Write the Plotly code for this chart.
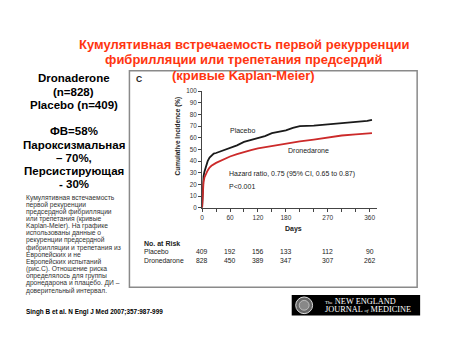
import plotly.graph_objects as go

W, H = 450, 347

# ---------------- data ----------------
placebo_days = [0, 1, 2, 3, 5, 8, 12, 16, 20, 25, 30, 40, 50, 60, 75, 90, 105, 120, 135, 150,
                165, 180, 195, 210, 240, 270, 300, 330, 355, 365]
placebo_pct = [0, 12, 22, 27, 31, 35, 40, 43, 45, 46.5, 47, 48.5, 49.5, 51, 53.5, 56.5, 58, 59.5,
               61.5, 64, 65, 66.5, 68.5, 70, 70.5, 71.5, 73, 74, 74.5, 75.5]
drone_days = [0, 1, 2, 3, 5, 8, 12, 16, 20, 30, 40, 50, 60, 75, 90, 105, 120, 135, 150, 165,
              180, 210, 240, 270, 300, 330, 365]
drone_pct = [0, 10, 18, 22, 26, 29, 32, 34.5, 36, 38.5, 40.5, 42.5, 44, 46, 48, 49.5, 51, 52,
             53.5, 54.5, 55.5, 57, 58.5, 60.5, 62, 63, 64]

x_tick_vals = [0, 30, 60, 90, 120, 150, 180, 210, 240, 270, 300, 330, 360]
x_tick_text = ["0", "", "60", "", "120", "", "180", "", "", "270", "", "", "360"]
y_tick_vals = [0, 10, 20, 30, 40, 50, 60, 70, 80, 90, 100]

risk_days = [0, 60, 120, 180, 270, 360]
risk_placebo = [409, 192, 156, 133, 112, 90]
risk_drone = [828, 450, 389, 347, 307, 262]

title_lines = ["Кумулятивная встречаемость первой рекурренции",
               "фибрилляции или трепетания предсердий",
               "(кривые Kaplan-Meier)"]
left_lines = ["Dronaderone", "(n=828)", "Placebo (n=409)", "",
              "ФВ=58%", "Пароксизмальная", "– 70%,", "Персистирующая", "- 30%"]
note_lines = ["Кумулятивная встечаемость", "первой рекуренции",
              "предсердной фибрилляции", "или трепетания (кривые",
              "Kaplan-Meier). На графике", "использованы данные о",
              "рекуренции предсердной", "фибрилляции и трепетания из",
              "Европейских и не", "Европейских испытаний",
              "(рис.С). Отношение риска", "определялось для группы",
              "дронедарона и плацебо. ДИ –", "доверительный интервал."]
citation = "Singh B et al. N Engl J Med 2007;357:987-999"


def px(x):
    return x / W


def py(y):
    return 1 - y / H


fig = go.Figure()
fig.add_trace(go.Scatter(x=placebo_days, y=placebo_pct, mode="lines",
                         line=dict(color="#1a1a1a", width=1.8), hoverinfo="skip"))
fig.add_trace(go.Scatter(x=drone_days, y=drone_pct, mode="lines",
                         line=dict(color="#cc2a2a", width=1.8), hoverinfo="skip"))

SANS = "Liberation Sans, Arial, sans-serif"
ann = []


def add(text, x, y, size, color="#000", bold=False, xanchor="center", yanchor="middle",
        family=SANS, xref="paper", angle=0):
    t = "<b>%s</b>" % text if bold else text
    ann.append(dict(text=t, x=x if xref != "paper" else px(x), y=py(y), xref=xref, yref="paper",
                    showarrow=False, xanchor=xanchor, yanchor=yanchor, textangle=angle,
                    font=dict(size=size, color=color, family=family)))


# title
for i, line in enumerate(title_lines):
    add(line, 243, 41 + 16 * i, 13, color="#ff3510", bold=True)

# left bold block
left_y = [76, 89.5, 103, 116.5, 130, 143.5, 157, 170.5, 184]
for line, yy in zip(left_lines, left_y):
    if line:
        add(line, 72, yy, 11.5, bold=True)

# small note
for i, line in enumerate(note_lines):
    add(line, 22, 197.5 + 7.3 * i, 6.7, color="#333", xanchor="left")
add(citation, 22, 314, 6.4, bold=True, xanchor="left")

# chart texts
add("C", 133, 77, 8.5, color="#222", bold=True, xanchor="left")
add("Cumulative Incidence (%)", 177, 135, 6.5, color="#222", bold=True, angle=-90)
add("Placebo", 242, 129, 7, color="#222")
add("Dronedarone", 308, 149.5, 7, color="#222")
add("Hazard ratio, 0.75 (95% CI, 0.65 to 0.87)", 226.5, 174, 7, color="#222", xanchor="left")
add("P<0.001", 226.5, 186.5, 7, color="#222", xanchor="left")
add("Days", 293, 230, 7, color="#222", bold=True)
add("No. at Risk", 141, 244, 7, color="#222", bold=True, xanchor="left")
add("Placebo", 141, 253, 6.8, color="#222", xanchor="left")
add("Dronedarone", 141, 262, 6.8, color="#222", xanchor="left")
for d, a, b in zip(risk_days, risk_placebo, risk_drone):
    ann.append(dict(text=str(a), x=d, y=py(253), xref="x", yref="paper", showarrow=False,
                    xanchor="center", yanchor="middle",
                    font=dict(size=6.8, color="#222", family=SANS)))
    ann.append(dict(text=str(b), x=d, y=py(262), xref="x", yref="paper", showarrow=False,
                    xanchor="center", yanchor="middle",
                    font=dict(size=6.8, color="#222", family=SANS)))

# NEJM logo text
SERIF = "Liberation Serif, DejaVu Serif, serif"
add("<span style='font-size:5px'>The</span> NEW ENGLAND", 322, 303.5, 8.3, color="#fff",
    xanchor="left", family=SERIF)
add("JOURNAL <span style='font-size:5px'><i>of</i></span> MEDICINE", 322, 312, 8.3,
    color="#fff", xanchor="left", family=SERIF)

shapes = [
    dict(type="rect", xref="paper", yref="paper", x0=px(128), x1=px(417), y0=py(289), y1=py(68),
         line=dict(color="#8a8a8a", width=1.5), fillcolor="rgba(0,0,0,0)", layer="below"),
    dict(type="rect", xref="paper", yref="paper", x0=px(291), x1=px(420), y0=py(318), y1=py(297),
         line=dict(color="#000", width=0), fillcolor="#000"),
    dict(type="circle", xref="paper", yref="paper", x0=px(295), x1=px(312), y0=py(316), y1=py(299),
         line=dict(color="#ddd", width=1), fillcolor="#666"),
    dict(type="circle", xref="paper", yref="paper", x0=px(298.5), x1=px(308.5), y0=py(312.5),
         y1=py(302.5), line=dict(color="#ccc", width=0.8), fillcolor="#888"),
]

fig.update_layout(
    width=W, height=H, margin=dict(l=0, r=0, t=0, b=0),
    paper_bgcolor="white", plot_bgcolor="white", showlegend=False,
    annotations=ann, shapes=shapes,
    xaxis=dict(domain=[px(201), px(376.3)], range=[0, 375], showline=True, linecolor="#444",
               linewidth=1, ticks="outside", ticklen=3, tickcolor="#444", tickvals=x_tick_vals,
               ticktext=x_tick_text, tickfont=dict(size=6.5, color="#333", family=SANS),
               showgrid=False, zeroline=False, fixedrange=True),
    yaxis=dict(domain=[py(208), py(89)], range=[0, 100], showline=True, linecolor="#444",
               linewidth=1, ticks="outside", ticklen=3, tickcolor="#444", tickvals=y_tick_vals,
               tickfont=dict(size=6.3, color="#333", family=SANS), showgrid=False,
               zeroline=False, fixedrange=True),
)

fig.write_html("out.html")
